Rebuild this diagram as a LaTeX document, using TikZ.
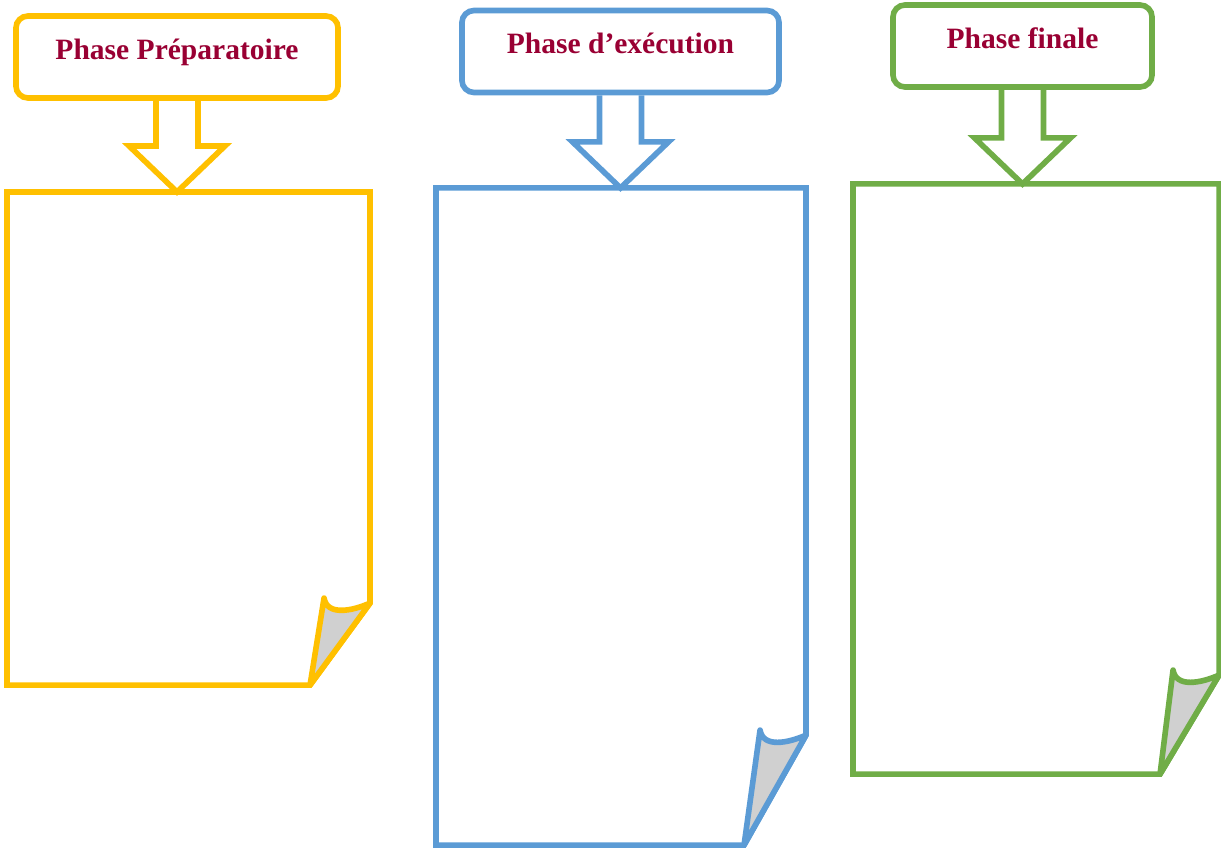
\documentclass[tikz,border=0pt]{standalone}
\usepackage{fontspec}
\setmainfont{Liberation Serif}
\usepackage{xcolor}
\usepackage{tikz}
\usetikzlibrary{calc}
\definecolor{prepcol}{HTML}{FFC000}
\definecolor{execcol}{HTML}{5B9BD5}
\definecolor{fincol}{HTML}{70AD47}
\definecolor{titlecol}{HTML}{990033}
\definecolor{foldcol}{HTML}{D0D0D0}

\begin{document}
\begin{tikzpicture}[x=0.025cm,y=-0.025cm,line width=4pt]
\tikzstyle{title}=[rounded corners=0.3cm,inner sep=0pt,
                   text height=1.075cm,text depth=0.975cm,text=titlecol,
                   font=\fontsize{21}{24}\selectfont\bfseries]
\tikzstyle{paper}=[inner sep=0pt,outer sep=0pt]
\useasboundingbox (0,0) rectangle (1221,848);

\node[title,draw=prepcol,minimum width=8.05cm] (PREP) at (177,57) {Phase Préparatoire};
\node[title,draw=execcol,minimum width=7.925cm] (EXEC) at (620.5,51.5) {Phase d’exécution};
\node[title,draw=fincol,minimum width=6.475cm] (FIN) at (1022.5,46) {Phase finale};

\node[paper,minimum width=9.075cm,minimum height=12.325cm] (PREPPAPER) at (188.5,438.5) {};
\node[paper,minimum width=9.25cm,minimum height=16.425cm] (EXECPAPER) at (621,516.5) {};
\node[paper,minimum width=9.15cm,minimum height=14.75cm] (FINPAPER) at (1036,479) {};

\foreach \t/\p/\c/\fh/\fw in {PREP/PREPPAPER/prepcol/82/60,
                               EXEC/EXECPAPER/execcol/110/62,
                               FIN/FINPAPER/fincol/99/59}{
  % sheet with folded corner
  \coordinate (C) at ($(\p.south east)+(0,-\fh)$);
  \coordinate (B) at ($(\p.south east)+(-\fw,0)$);
  \draw[\c] (\p.north west) -- (\p.north east) -- (C) -- (B)
            -- (\p.south west) -- cycle;
  \draw[\c,fill=foldcol,line join=round] ($(C)+(-46,-5)$) .. controls +(3,18) and +(-18,8) .. (C)
            -- (B) -- cycle;
  % hollow arrow
  \coordinate (tip) at (\t.south |- \p.north);
  \draw[\c] ($(\t.south)+(-21,0)$) -- ($(tip)+(-21,-46)$) -- ($(tip)+(-48,-46)$)
            -- (tip) -- ($(tip)+(48,-46)$) -- ($(tip)+(21,-46)$)
            -- ($(\t.south)+(21,0)$);
}
\end{tikzpicture}
\end{document}
